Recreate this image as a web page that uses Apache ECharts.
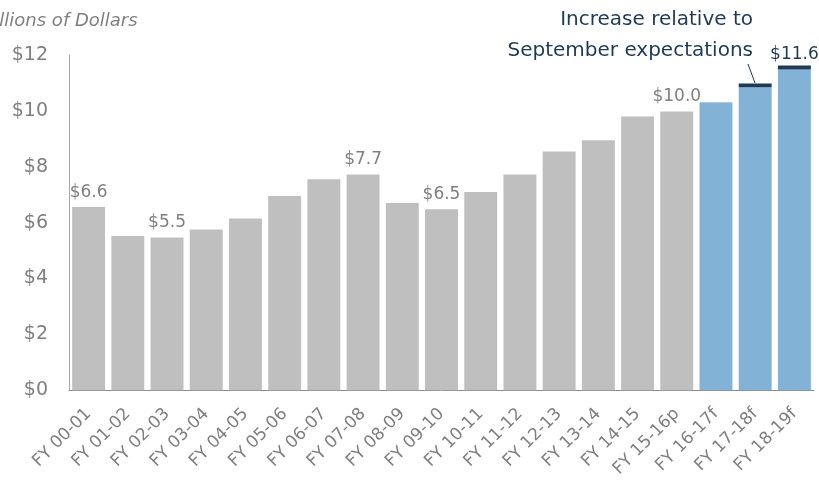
<!DOCTYPE html>
<html>
<head>
<meta charset="utf-8">
<script src="https://cdn.jsdelivr.net/npm/echarts@6/dist/echarts.min.js"></script>
<style>
  html, body { margin: 0; padding: 0; background: #fff; }
  #chart { width: 819px; height: 480px; }
</style>
</head>
<body>
<div id="chart"></div>
<script>
// fiscal years
const categories = ['FY 00-01', 'FY 01-02', 'FY 02-03', 'FY 03-04', 'FY 04-05', 'FY 05-06',
  'FY 06-07', 'FY 07-08', 'FY 08-09', 'FY 09-10', 'FY 10-11', 'FY 11-12', 'FY 12-13',
  'FY 13-14', 'FY 14-15', 'FY 15-16p', 'FY 16-17f', 'FY 17-18f', 'FY 18-19f']
// actuals (gray), null where forecast
const actual = [6.56, 5.52, 5.47, 5.75, 6.15, 6.95, 7.55, 7.72, 6.7, 6.48, 7.1, 7.72, 8.55,
  8.95, 9.8, 9.98, null, null, null]
// September forecast (blue)
const forecast = [null, null, null, null, null, null, null, null, null, null, null, null,
  null, null, null, null, 10.3, 10.85, 11.48]
// increase relative to September expectations (dark cap)
const increase = [null, null, null, null, null, null, null, null, null, null, null, null,
  null, null, null, null, 0.02, 0.13, 0.14]
// bars that carry a value label
const labelled = ['FY 00-01', 'FY 02-03', 'FY 07-08', 'FY 09-10', 'FY 15-16p']
const yTicks = [0, 2, 4, 6, 8, 10, 12]
const note = ['Increase relative to', 'September expectations']

const font = '"DejaVu Sans", sans-serif'
const chart = echarts.init(document.getElementById('chart'))

// annotation, right-aligned lines
const noteText = note.map((t, i) => ({
  type: 'text',
  style: {
    text: t, x: 753, y: 20 + i * 31,
    align: 'right', verticalAlign: 'middle',
    fontFamily: font, fontSize: 20, fill: '#1f3a56'
  }
}))

chart.setOption({
  animation: false,
  grid: { left: 69, right: 5, top: 55, bottom: 89 },
  title: {
    text: 'Billions of Dollars',
    left: -23, top: 7,
    textStyle: { fontFamily: font, fontStyle: 'italic', fontWeight: 'normal', fontSize: 18, color: '#7f7f7f' }
  },
  graphic: noteText.concat([
    {
      type: 'line',
      shape: { x1: 748, y1: 64, x2: 755, y2: 83 },
      style: { stroke: '#1f3a56', lineWidth: 1 }
    }
  ]),
  xAxis: {
    type: 'category',
    data: categories,
    axisLine: { lineStyle: { color: '#8c8c8c', width: 1 } },
    axisTick: { show: false },
    axisLabel: { rotate: 45, interval: 0, margin: 21, color: '#7f7f7f', fontFamily: font, fontSize: 17 }
  },
  yAxis: {
    type: 'value',
    min: yTicks[0], max: yTicks[yTicks.length - 1], interval: 2,
    axisLine: { show: true, lineStyle: { color: '#a6a6a6', width: 1 } },
    axisTick: { show: false },
    splitLine: { show: false },
    axisLabel: { margin: 21, color: '#7f7f7f', fontFamily: font, fontSize: 19, formatter: v => '$' + v }
  },
  series: [
    {
      type: 'bar', stack: 'total', data: actual, barCategoryGap: '16%',
      itemStyle: { color: '#bfbfbf' },
      label: {
        show: true, position: 'top', distance: 6,
        color: '#7f7f7f', fontFamily: font, fontSize: 17,
        formatter: p => labelled.includes(p.name) ? '$' + p.value.toFixed(1) : ''
      }
    },
    {
      type: 'bar', stack: 'total', data: forecast,
      itemStyle: { color: '#82b2d6' }
    },
    {
      type: 'bar', stack: 'total', data: increase,
      itemStyle: { color: p => p.value < 0.05 ? '#a8bccb' : '#1f3a56' },
      label: {
        show: true, position: 'top', distance: 3,
        color: '#1f3a56', fontFamily: font, fontSize: 17,
        formatter: p => p.dataIndex === categories.length - 1
          ? '$' + (forecast[p.dataIndex] + p.value).toFixed(1) : ''
      }
    }
  ]
})
</script>
</body>
</html>
